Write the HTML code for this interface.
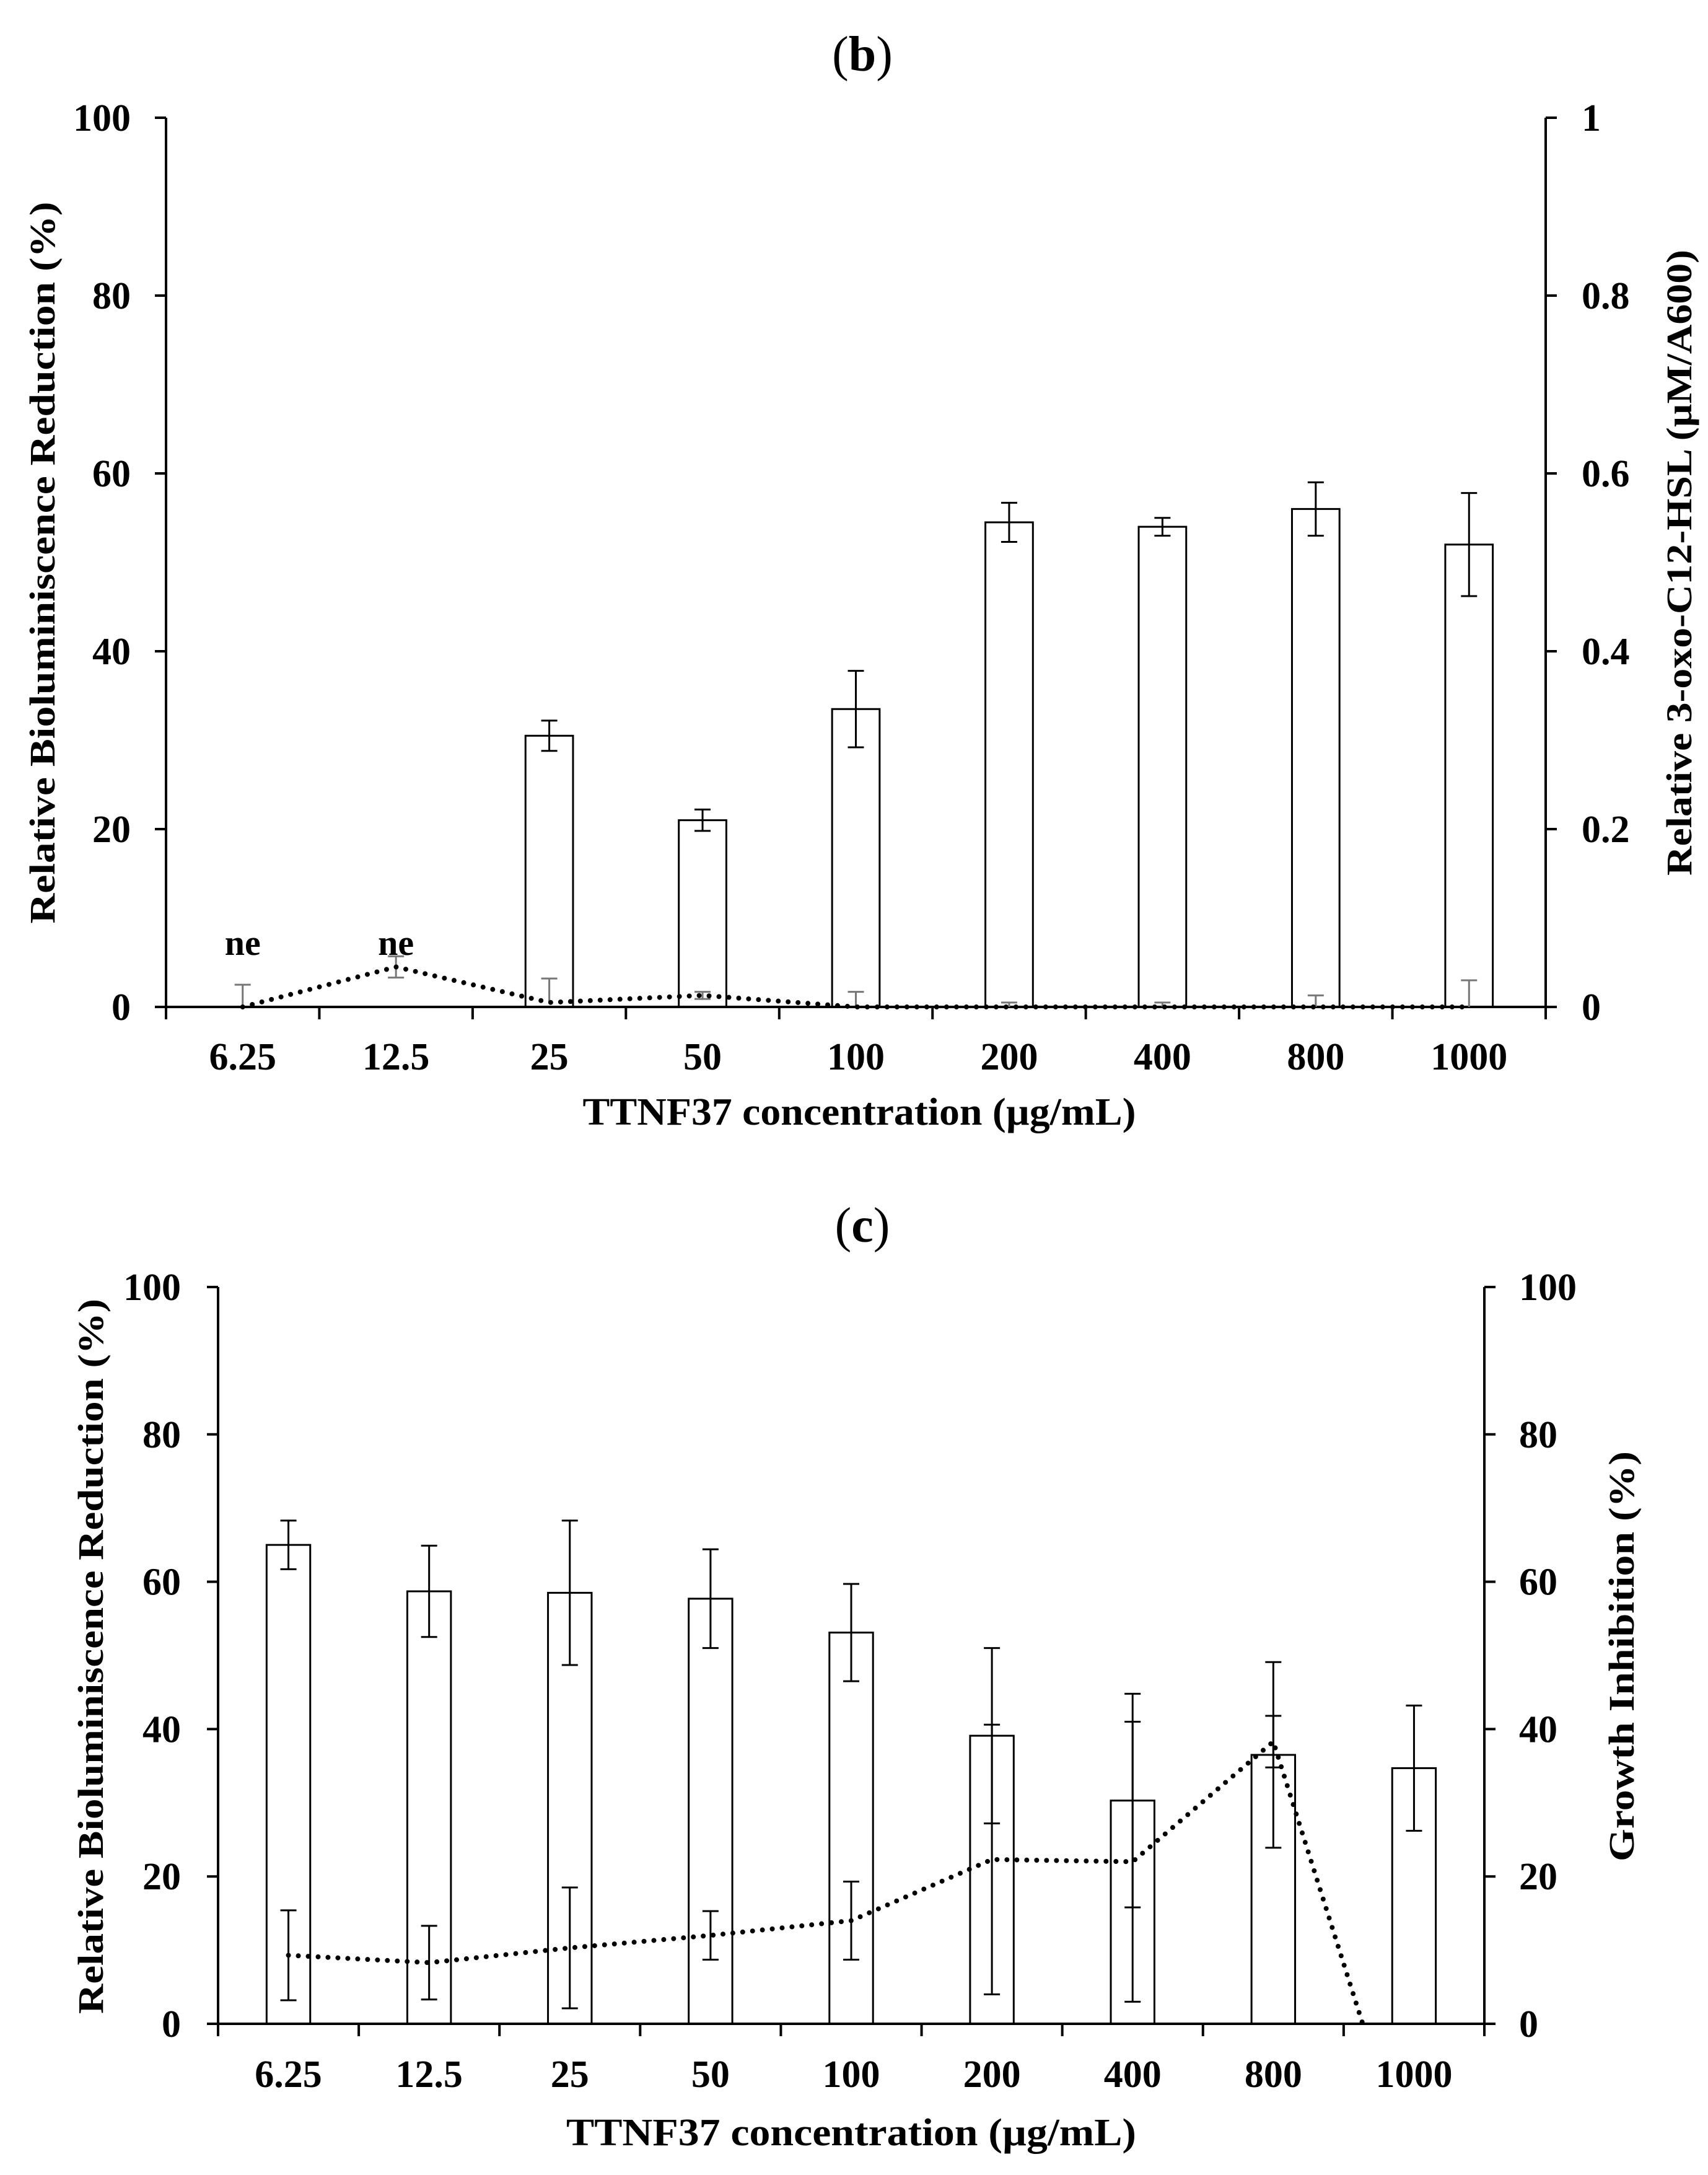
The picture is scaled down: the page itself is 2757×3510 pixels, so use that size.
<!DOCTYPE html>
<html><head><meta charset="utf-8">
<style>
html,body{margin:0;padding:0;background:#fff;}
svg{display:block;}
text{font-family:"Liberation Serif",serif;font-weight:bold;fill:#000;}
</style></head>
<body>
<svg id="fig" width="2757" height="3510" viewBox="0 0 2757 3510" xmlns="http://www.w3.org/2000/svg">
<rect x="0" y="0" width="2757" height="3510" fill="#fff"/>
<text x="1392" y="114" font-size="80" text-anchor="middle" style="font-weight:normal">(<tspan style="font-weight:bold">b</tspan>)</text>
<text x="1392" y="2004" font-size="80" text-anchor="middle" style="font-weight:normal">(<tspan style="font-weight:bold">c</tspan>)</text>
<g id="chartB"></g>
<g id="chartC"></g>
</svg>
<script>
const categories = ["6.25","12.5","25","50","100","200","400","800","1000"];
const leftTicks = [0,20,40,60,80,100];
// Panel b
const bBars = [null,null,30.5,21,33.5,54.5,54,56,52];
const bBarErr = [0,0,1.7,1.2,4.3,2.2,1.0,3.0,5.8];
const bLine = [0,0.045,0.005,0.013,0,0,0,0,0];
const bLineErrUp = [0.025,0.012,0.027,0.004,0.017,0.005,0.005,0.013,0.03];
const bLineErrDown = [0,0.012,0,0.004,0,0,0,0,0];
const bRightTicks = [0,0.2,0.4,0.6,0.8,1];
const bRightLabels = ["0","0.2","0.4","0.6","0.8","1"];
const bNe = ["ne","ne",null,null,null,null,null,null,null];
// Panel c
const cBars = [65,58.7,58.5,57.7,53.1,39.1,30.3,36.5,34.7];
const cBarErr = [3.3,6.2,9.8,6.7,6.6,11.9,14.5,12.6,8.5];
const cLine = [9.3,8.3,10.3,12,14,22.3,22,38.3,-22];
const cLineErr = [6.1,5,8.2,3.3,5.3,18.3,19,3.5,0];
const cRightTicks = [0,20,40,60,80,100];
const cRightLabels = ["0","20","40","60","80","100"];

const NS="http://www.w3.org/2000/svg";
function mk(parent,tag,attrs){const e=document.createElementNS(NS,tag);for(const k in attrs)e.setAttribute(k,attrs[k]);parent.appendChild(e);return e;}

function drawChart(g,cfg){
  const L=cfg.left,R=cfg.right,T=cfg.top,B=cfg.bottom;
  const n=categories.length, cw=(R-L)/n;
  const xC=i=>L+(i+0.5)*cw;
  const yL=v=>B-(v/100)*(B-T);
  const yR=v=>B-(v/cfg.rMax)*(B-T);
  for(let i=0;i<n;i++){
    const v=cfg.bars[i]; if(v==null) continue;
    const bw=cw*0.31;
    const r=mk(g,'rect',{x:xC(i)-bw/2,y:yL(v),width:bw,height:B-yL(v),fill:'#fff',stroke:'#000','stroke-width':3});
    
    
    const e=cfg.barErr[i];
    if(e>0){
      const eg=mk(g,'path',{d:`M${xC(i)} ${yL(v+e)}V${yL(v-e)}M${xC(i)-13} ${yL(v+e)}h26M${xC(i)-13} ${yL(v-e)}h26`,stroke:'#000','stroke-width':3,fill:'none'});
      
      
    }
  }
  const ax=mk(g,'path',{d:`M${L} ${T}V${B}M${R} ${T}V${B}M${L} ${B}H${R}`,stroke:'#000','stroke-width':4,fill:'none'});
  
  
  for(let i=0;i<n;i++){
    const v=cfg.line[i]; if(v<0) continue;
    const up=cfg.lineErrUp[i], dn=cfg.lineErrDown[i];
    if(up<=0&&dn<=0) continue;
    let d=`M${xC(i)} ${yR(v+up)}V${yR(Math.max(0,v-dn))}M${xC(i)-13} ${yR(v+up)}h26`;
    if(dn>0) d+=`M${xC(i)-13} ${yR(v-dn)}h26`;
    const le=mk(g,'path',{d:d,stroke:cfg.lineErrColor,'stroke-width':3,fill:'none'});
    
    
  }
  const cid='clip'+cfg.id;
  const cp=mk(g,'clipPath',{id:cid});
  mk(cp,'rect',{x:L,y:T,width:R-L,height:B-T+6});
  let pts=cfg.line.map((v,i)=>`${xC(i)},${yR(v)}`).join(' ');
  const pl=mk(g,'polyline',{points:pts,fill:'none',stroke:'#000','stroke-width':8,'stroke-linecap':'round','stroke-dasharray':'0 16','clip-path':`url(#${cid})`});
  
  
  leftTicks.forEach(t=>{
    const tk=mk(g,'line',{x1:L-18,x2:L,y1:yL(t),y2:yL(t),stroke:'#000','stroke-width':4});
    
    
    const tx=mk(g,'text',{x:L-cfg.lPad,y:yL(t)+21,'font-size':62,'text-anchor':'end'});
    tx.textContent=t;
    
    
  });
  cfg.rTicks.forEach((t,k)=>{
    const tk=mk(g,'line',{x1:R,x2:R+18,y1:yR(t),y2:yR(t),stroke:'#000','stroke-width':4});
    
    
    const tx=mk(g,'text',{x:R+cfg.rPad,y:yR(t)+21,'font-size':62});
    tx.textContent=cfg.rLabels[k];
    
    
  });
  for(let i=0;i<=n;i++){
    const tk=mk(g,'line',{x1:L+i*cw,x2:L+i*cw,y1:B,y2:B+20,stroke:'#000','stroke-width':4});
    
    
  }
  categories.forEach((c,i)=>{
    const tx=mk(g,'text',{x:xC(i),y:cfg.catY,'font-size':62,'text-anchor':'middle'});
    tx.textContent=c;
    
    
    if(cfg.ne && cfg.ne[i]){
      const ne=mk(g,'text',{x:xC(i),y:B-84,'font-size':58,'text-anchor':'middle'});
      ne.textContent=cfg.ne[i];
      
      
    }
  });
  const xt=mk(g,'text',{x:cfg.xtX,y:cfg.xtY,'font-size':62,'text-anchor':'middle',textLength:cfg.xtLen,lengthAdjust:'spacingAndGlyphs'});
  xt.textContent='TTNF37 concentration (µg/mL)';
  
  
  const yt=mk(g,'text',{x:0,y:0,'font-size':58,'text-anchor':'middle',textLength:cfg.ytLen,lengthAdjust:'spacingAndGlyphs',transform:`translate(${cfg.ytX},${cfg.ytC}) rotate(-90)`});
  yt.textContent='Relative Bioluminiscence Reduction (%)';
  
  
  const rt=mk(g,'text',{x:0,y:0,'font-size':58,'text-anchor':'middle',textLength:cfg.rtLen,lengthAdjust:'spacingAndGlyphs',transform:`translate(${cfg.rtX},${cfg.rtC}) rotate(-90)`});
  rt.textContent=cfg.rTitle;
  
  
}

drawChart(document.getElementById('chartB'),{id:'b',left:268,right:2495,top:190,bottom:1625,rMax:1,
  bars:bBars,barErr:bBarErr,line:bLine,lineErrUp:bLineErrUp,lineErrDown:bLineErrDown,lineErrColor:'#777',
  rTicks:bRightTicks,rLabels:bRightLabels,lPad:57,rPad:58,catY:1726,ne:bNe,
  xtX:1387,xtY:1815,xtLen:893,ytX:88,ytC:908,ytLen:1165,rtX:2730,rtC:908,rtLen:1010,
  rTitle:'Relative 3-oxo-C12-HSL (µM/A600)'});
drawChart(document.getElementById('chartC'),{id:'c',left:352,right:2396,top:2077,bottom:3266,rMax:100,
  bars:cBars,barErr:cBarErr,line:cLine,lineErrUp:cLineErr,lineErrDown:cLineErr,lineErrColor:'#000',
  rTicks:cRightTicks,rLabels:cRightLabels,lPad:60,rPad:56,catY:3368,ne:null,
  xtX:1374,xtY:3462,xtLen:920,ytX:166,ytC:2673,ytLen:1154,rtX:2637,rtC:2673,rtLen:662,
  rTitle:'Growth Inhibition (%)'});
</script>
</body></html>
